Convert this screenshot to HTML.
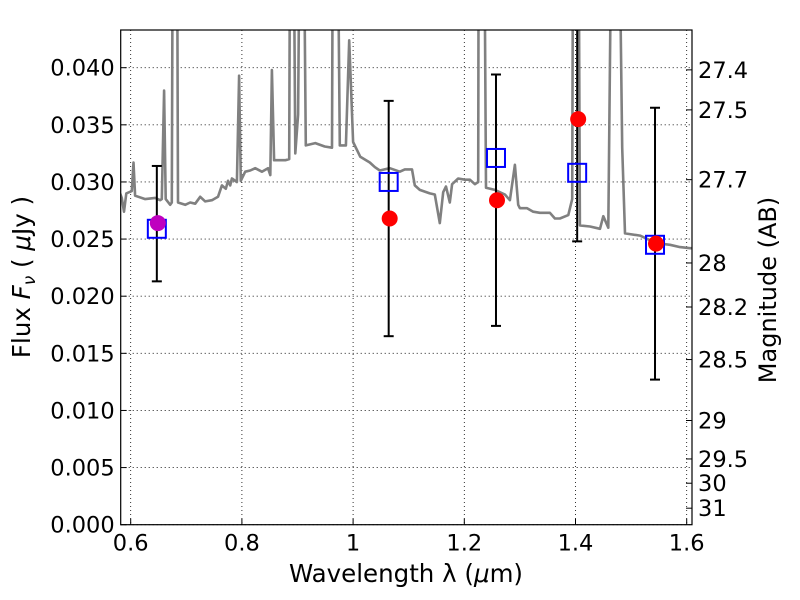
<!DOCTYPE html>
<html><head><meta charset="utf-8"><style>
html,body{margin:0;padding:0;background:#fff;}
svg{display:block;font-family:"DejaVu Sans","Liberation Sans",sans-serif;}
</style></head><body>
<svg id="chart" width="800" height="600" viewBox="0 0 800 600" xmlns="http://www.w3.org/2000/svg">
<defs><clipPath id="clip"><rect x="120.7" y="30" width="571.3" height="494.7"/></clipPath></defs>
<rect x="0" y="0" width="800" height="600" fill="#fff"/>
<g id="grid"></g>
<g id="spec" clip-path="url(#clip)"></g>
<g id="marks" clip-path="url(#clip)"></g>
<rect x="120.7" y="30" width="571.3" height="494.7" fill="none" stroke="#000" stroke-width="1.2"/>
<g id="axes"></g>
<text x="406" y="582" font-size="24.5" text-anchor="middle">Wavelength  λ (<tspan font-style="italic">μ</tspan>m)</text>
<text transform="translate(30,277) rotate(-90)" font-size="24.5" text-anchor="middle">Flux  <tspan font-style="italic">F</tspan><tspan font-size="17" dy="5" font-style="italic">ν</tspan><tspan dy="-5">  ( <tspan font-style="italic">μ</tspan>Jy )</tspan></text>
<text transform="translate(776,290) rotate(-90)" font-size="24" text-anchor="middle">Magnitude (AB)</text>
</svg>
<script>
const xTicks=[0.6,0.8,1.0,1.2,1.4,1.6];
const xTickLabels=["0.6","0.8","1","1.2","1.4","1.6"];
const yTicks=[0,0.005,0.01,0.015,0.02,0.025,0.03,0.035,0.04];
const yTickLabels=["0.000","0.005","0.010","0.015","0.020","0.025","0.030","0.035","0.040"];
const magTicks=[27.4,27.5,27.7,28,28.2,28.5,29,29.5,30,31];
const magTickLabels=["27.4","27.5","27.7","28","28.2","28.5","29","29.5","30","31"];
const specWave=[0.581,0.584,0.588,0.592,0.602,0.605,0.608,0.626,0.644,0.653,0.656,0.660,0.663,0.671,0.674,0.676,0.683,0.685,0.698,0.707,0.716,0.725,0.734,0.746,0.757,0.764,0.771,0.775,0.779,0.782,0.791,0.795,0.798,0.806,0.815,0.824,0.836,0.847,0.851,0.854,0.858,0.878,0.885,0.887,0.892,0.896,0.901,0.905,0.910,0.915,0.932,0.949,0.962,0.964,0.971,0.976,0.987,0.993,1.000,1.013,1.030,1.039,1.048,1.066,1.084,1.093,1.106,1.111,1.120,1.138,1.147,1.156,1.162,1.167,1.174,1.178,1.189,1.201,1.210,1.219,1.225,1.226,1.235,1.239,1.255,1.273,1.282,1.291,1.297,1.300,1.313,1.324,1.336,1.354,1.363,1.372,1.387,1.394,1.396,1.405,1.408,1.426,1.444,1.450,1.459,1.466,1.477,1.484,1.489,1.516,1.534,1.552,1.570,1.588,1.606,1.612];
const specFlux=[0.0290,0.0286,0.0274,0.0290,0.0292,0.0317,0.0288,0.0285,0.0286,0.0284,0.0285,0.0380,0.0285,0.0280,0.0282,0.06,0.06,0.0282,0.0280,0.0282,0.0281,0.0287,0.0283,0.0284,0.0287,0.0297,0.0294,0.0301,0.0297,0.0303,0.0300,0.0393,0.0301,0.0309,0.0310,0.0312,0.0309,0.0312,0.0306,0.0398,0.0319,0.0319,0.0320,0.06,0.06,0.0325,0.0359,0.06,0.06,0.0332,0.0334,0.0331,0.0330,0.06,0.06,0.0332,0.0332,0.0424,0.0335,0.0322,0.0317,0.0313,0.0310,0.0312,0.0309,0.0311,0.0311,0.0297,0.0293,0.0290,0.0289,0.0264,0.0291,0.0296,0.0282,0.0298,0.0303,0.0302,0.0302,0.0298,0.0300,0.06,0.06,0.0295,0.0293,0.0289,0.0284,0.0315,0.0280,0.0277,0.0277,0.0274,0.0273,0.0273,0.0268,0.0268,0.0271,0.0285,0.06,0.06,0.0262,0.0261,0.0259,0.0270,0.0260,0.06,0.06,0.0330,0.0255,0.0253,0.0249,0.0246,0.0245,0.0243,0.0242,0.0242];
const bandWave=[0.647,1.064,1.257,1.403,1.543];
const obsFlux=[0.0264,0.0268,0.0284,0.0355,0.0246];
const errLow=[0.0213,0.0165,0.0174,0.0248,0.0127];
const errHigh=[0.0314,0.0371,0.0394,0.0480,0.0365];
const modelFlux=[0.0259,0.0300,0.0321,0.0308,0.0245];
const obsColor=["#bf00bf","#ff0000","#ff0000","#ff0000","#ff0000"];

const X0=120.7,X1=692,Y0=524.7,Y1=30;
function sx(v){return 130.7+(v-0.6)/1.0*556;}
function sy(f){return 524.7-f/0.04*457;}
function magToFlux(m){return Math.pow(10,-(m-23.9)/2.5);}
const NS="http://www.w3.org/2000/svg";
function mk(tag,attrs,parent){const e=document.createElementNS(NS,tag);for(const k in attrs)e.setAttribute(k,attrs[k]);parent.appendChild(e);return e;}
const grid=document.getElementById('grid'),axes=document.getElementById('axes'),spec=document.getElementById('spec'),marks=document.getElementById('marks');

xTicks.forEach((t,i)=>{const x=sx(t);
 const g=mk('line',{x1:x,x2:x,y1:Y1,y2:Y0,stroke:'#000','stroke-width':0.8,'stroke-dasharray':'1,3'},grid);
 
 
 const tk=mk('line',{x1:x,x2:x,y1:Y0,y2:Y0-6,stroke:'#000','stroke-width':1},axes);
 
 
 const tx=mk('text',{x:x,y:Y0+26,'font-size':22.5,'text-anchor':'middle'},axes);tx.textContent=xTickLabels[i];
 
 
});
yTicks.forEach((t,i)=>{const y=sy(t);
 const g=mk('line',{x1:X0,x2:X1,y1:y,y2:y,stroke:'#000','stroke-width':0.8,'stroke-dasharray':'1,3'},grid);
 
 
 const tk=mk('line',{x1:X0,x2:X0+6,y1:y,y2:y,stroke:'#000','stroke-width':1},axes);
 
 
 const tx=mk('text',{x:X0-6,y:y+8,'font-size':22.5,'text-anchor':'end'},axes);tx.textContent=yTickLabels[i];
 
 
});
magTicks.forEach((m,i)=>{const y=sy(magToFlux(m));
 const tk=mk('line',{x1:X1,x2:X1-6,y1:y,y2:y,stroke:'#000','stroke-width':1},axes);
 
 
 const tx=mk('text',{x:X1+6,y:y+8,'font-size':22.5,'text-anchor':'start'},axes);tx.textContent=magTickLabels[i];
 
 
});
let d='';specWave.forEach((w,i)=>{d+=(i?'L':'M')+sx(w).toFixed(1)+','+sy(specFlux[i]).toFixed(1);});
const p=mk('path',{d:d,fill:'none',stroke:'#808080','stroke-width':2.6,'stroke-linejoin':'round'},spec);


bandWave.forEach((w,i)=>{const x=sx(w);
 const eb=mk('line',{x1:x,x2:x,y1:sy(errLow[i]),y2:sy(errHigh[i]),stroke:'#000','stroke-width':2},marks);
 
 
 [errLow[i],errHigh[i]].forEach(v=>{const c=mk('line',{x1:x-5,x2:x+5,y1:sy(v),y2:sy(v),stroke:'#000','stroke-width':2},marks);
  
  });
});
bandWave.forEach((w,i)=>{const x=sx(w),y=sy(modelFlux[i]);
 const r=mk('rect',{x:x-9,y:y-9,width:18,height:18,fill:'none',stroke:'#0000ff','stroke-width':2},marks);
 
 
});
bandWave.forEach((w,i)=>{const c=mk('circle',{cx:sx(w)+1,cy:sy(obsFlux[i]),r:8,fill:obsColor[i]},marks);
 
 
});
</script>
</body></html>
